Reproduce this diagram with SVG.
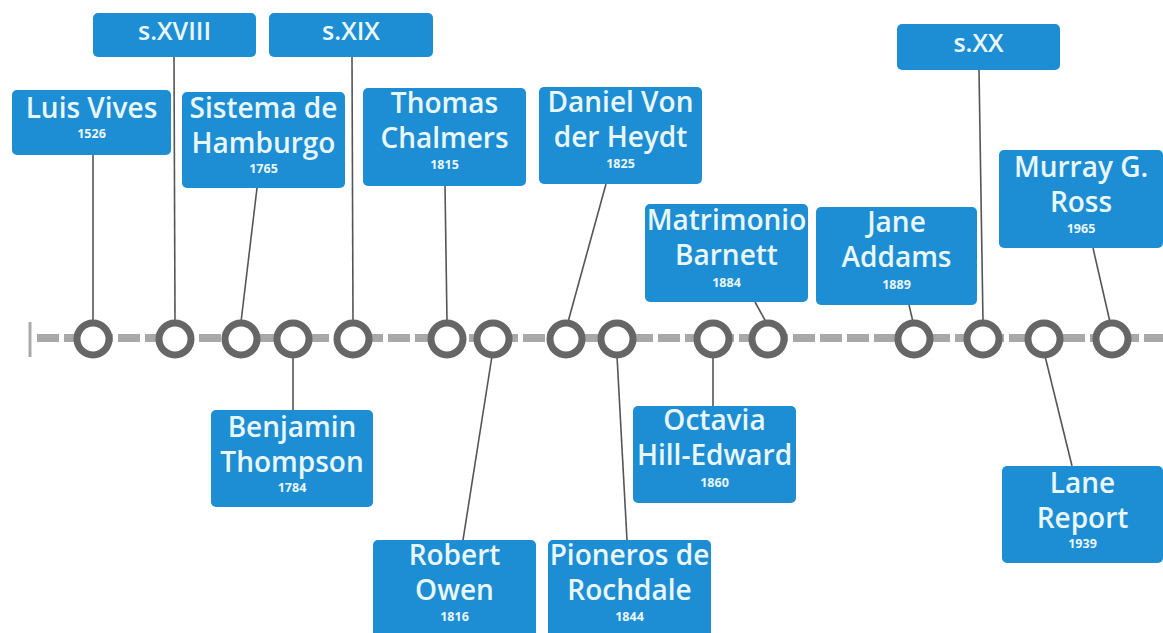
<svg xmlns="http://www.w3.org/2000/svg" width="1163" height="633" viewBox="0 0 1163 633">
  <style>
    .box { fill: #1d8ed3; }
    .name { font-family: "Open Sans", "DejaVu Sans", sans-serif; font-weight: 600; font-size: 28px; fill: #e9f7fb; text-anchor: middle; }
    .cent { font-family: "Open Sans", "DejaVu Sans", sans-serif; font-weight: 600; font-size: 25px; fill: #e9f7fb; text-anchor: middle; }
    .year { font-family: "Open Sans", "DejaVu Sans", sans-serif; font-weight: 700; font-size: 12.5px; fill: #e9f7fb; text-anchor: middle; }
    .link { stroke: #555; stroke-width: 1.6; fill: none; }
    .dot { fill: #fff; stroke: #666; stroke-width: 7; }
  </style>
  <rect width="1163" height="633" fill="#fff"/>

  <!-- timeline axis -->
  <g id="axis">
    <line x1="30" y1="322" x2="30" y2="357" stroke="#aaa" stroke-width="3"/>
    <line x1="37" y1="338" x2="1163" y2="338" stroke="#a8a8a8" stroke-width="8" stroke-dasharray="22 5"/>
  </g>

  <!-- connectors from boxes to timeline points -->
  <g id="connectors">
    <line class="link" x1="93" y1="155" x2="93" y2="322"/>
    <line class="link" x1="174" y1="57" x2="175" y2="322"/>
    <line class="link" x1="257" y1="188" x2="241" y2="322"/>
    <line class="link" x1="293" y1="356" x2="293" y2="410"/>
    <line class="link" x1="352" y1="57" x2="353" y2="322"/>
    <line class="link" x1="445" y1="186" x2="447" y2="322"/>
    <line class="link" x1="492" y1="356" x2="463" y2="540"/>
    <line class="link" x1="606" y1="184" x2="568" y2="322"/>
    <line class="link" x1="617" y1="356" x2="627" y2="540"/>
    <line class="link" x1="713" y1="356" x2="713" y2="406"/>
    <line class="link" x1="755" y1="302" x2="766" y2="322"/>
    <line class="link" x1="909" y1="305" x2="913" y2="322"/>
    <line class="link" x1="979" y1="70" x2="983" y2="322"/>
    <line class="link" x1="1045" y1="356" x2="1072" y2="466"/>
    <line class="link" x1="1093" y1="248" x2="1110" y2="322"/>
  </g>

  <!-- timeline points -->
  <g id="points">
    <circle class="dot" cx="93" cy="339" r="16"/>
    <circle class="dot" cx="175" cy="339" r="16"/>
    <circle class="dot" cx="241" cy="339" r="16"/>
    <circle class="dot" cx="293" cy="339" r="16"/>
    <circle class="dot" cx="353" cy="339" r="16"/>
    <circle class="dot" cx="447" cy="339" r="16"/>
    <circle class="dot" cx="493" cy="339" r="16"/>
    <circle class="dot" cx="566" cy="339" r="16"/>
    <circle class="dot" cx="617" cy="339" r="16"/>
    <circle class="dot" cx="713" cy="339" r="16"/>
    <circle class="dot" cx="768" cy="339" r="16"/>
    <circle class="dot" cx="914" cy="339" r="16"/>
    <circle class="dot" cx="983" cy="339" r="16"/>
    <circle class="dot" cx="1044" cy="339" r="16"/>
    <circle class="dot" cx="1112" cy="339" r="16"/>
  </g>

  <g id="luis-vives">
    <rect class="box" x="12" y="90" width="159" height="65" rx="5"/>
    <text class="name" x="91.5" y="118">Luis Vives</text>
    <text class="year" x="91.5" y="138">1526</text>
  </g>

  <g id="s-xviii">
    <rect class="box" x="93" y="13" width="163" height="44" rx="5"/>
    <text class="cent" x="174.5" y="40">s.XVIII</text>
  </g>

  <g id="sistema-hamburgo">
    <rect class="box" x="182" y="92" width="163" height="96" rx="5"/>
    <text class="name" x="263.5" y="118">Sistema de</text>
    <text class="name" x="263.5" y="153">Hamburgo</text>
    <text class="year" x="263.5" y="173">1765</text>
  </g>

  <g id="benjamin-thompson">
    <rect class="box" x="211" y="410" width="162" height="97" rx="5"/>
    <text class="name" x="292" y="437">Benjamin</text>
    <text class="name" x="292" y="472">Thompson</text>
    <text class="year" x="292" y="492">1784</text>
  </g>

  <g id="s-xix">
    <rect class="box" x="269" y="13" width="164" height="44" rx="5"/>
    <text class="cent" x="351" y="40">s.XIX</text>
  </g>

  <g id="thomas-chalmers">
    <rect class="box" x="363" y="88" width="163" height="98" rx="5"/>
    <text class="name" x="444.5" y="113">Thomas</text>
    <text class="name" x="444.5" y="148">Chalmers</text>
    <text class="year" x="444.5" y="169">1815</text>
  </g>

  <g id="robert-owen">
    <rect class="box" x="373" y="540" width="163" height="97" rx="5"/>
    <text class="name" x="454.5" y="565">Robert</text>
    <text class="name" x="454.5" y="600">Owen</text>
    <text class="year" x="454.5" y="621">1816</text>
  </g>

  <g id="daniel-von-der-heydt">
    <rect class="box" x="539" y="87" width="163" height="97" rx="5"/>
    <text class="name" x="620.5" y="112">Daniel Von</text>
    <text class="name" x="620.5" y="147">der Heydt</text>
    <text class="year" x="620.5" y="168">1825</text>
  </g>

  <g id="pioneros-rochdale">
    <rect class="box" x="548" y="540" width="163" height="97" rx="5"/>
    <text class="name" x="629.5" y="565">Pioneros de</text>
    <text class="name" x="629.5" y="600">Rochdale</text>
    <text class="year" x="629.5" y="621">1844</text>
  </g>

  <g id="octavia-hill-edward">
    <rect class="box" x="633" y="406" width="163" height="97" rx="5"/>
    <text class="name" x="714.5" y="430">Octavia</text>
    <text class="name" x="714.5" y="465">Hill-Edward</text>
    <text class="year" x="714.5" y="487">1860</text>
  </g>

  <g id="matrimonio-barnett">
    <rect class="box" x="645" y="204" width="163" height="98" rx="5"/>
    <text class="name" x="726.5" y="230">Matrimonio</text>
    <text class="name" x="726.5" y="265">Barnett</text>
    <text class="year" x="726.5" y="287">1884</text>
  </g>

  <g id="jane-addams">
    <rect class="box" x="816" y="207" width="161" height="98" rx="5"/>
    <text class="name" x="896.5" y="232">Jane</text>
    <text class="name" x="896.5" y="267">Addams</text>
    <text class="year" x="896.5" y="289">1889</text>
  </g>

  <g id="s-xx">
    <rect class="box" x="897" y="24" width="163" height="46" rx="5"/>
    <text class="cent" x="978.5" y="52">s.XX</text>
  </g>

  <g id="lane-report">
    <rect class="box" x="1002" y="466" width="161" height="97" rx="5"/>
    <text class="name" x="1082.5" y="493">Lane</text>
    <text class="name" x="1082.5" y="528">Report</text>
    <text class="year" x="1082.5" y="548">1939</text>
  </g>

  <g id="murray-g-ross">
    <rect class="box" x="999" y="150" width="164" height="98" rx="5"/>
    <text class="name" x="1081" y="177">Murray G.</text>
    <text class="name" x="1081" y="212">Ross</text>
    <text class="year" x="1081" y="233">1965</text>
  </g>
</svg>
